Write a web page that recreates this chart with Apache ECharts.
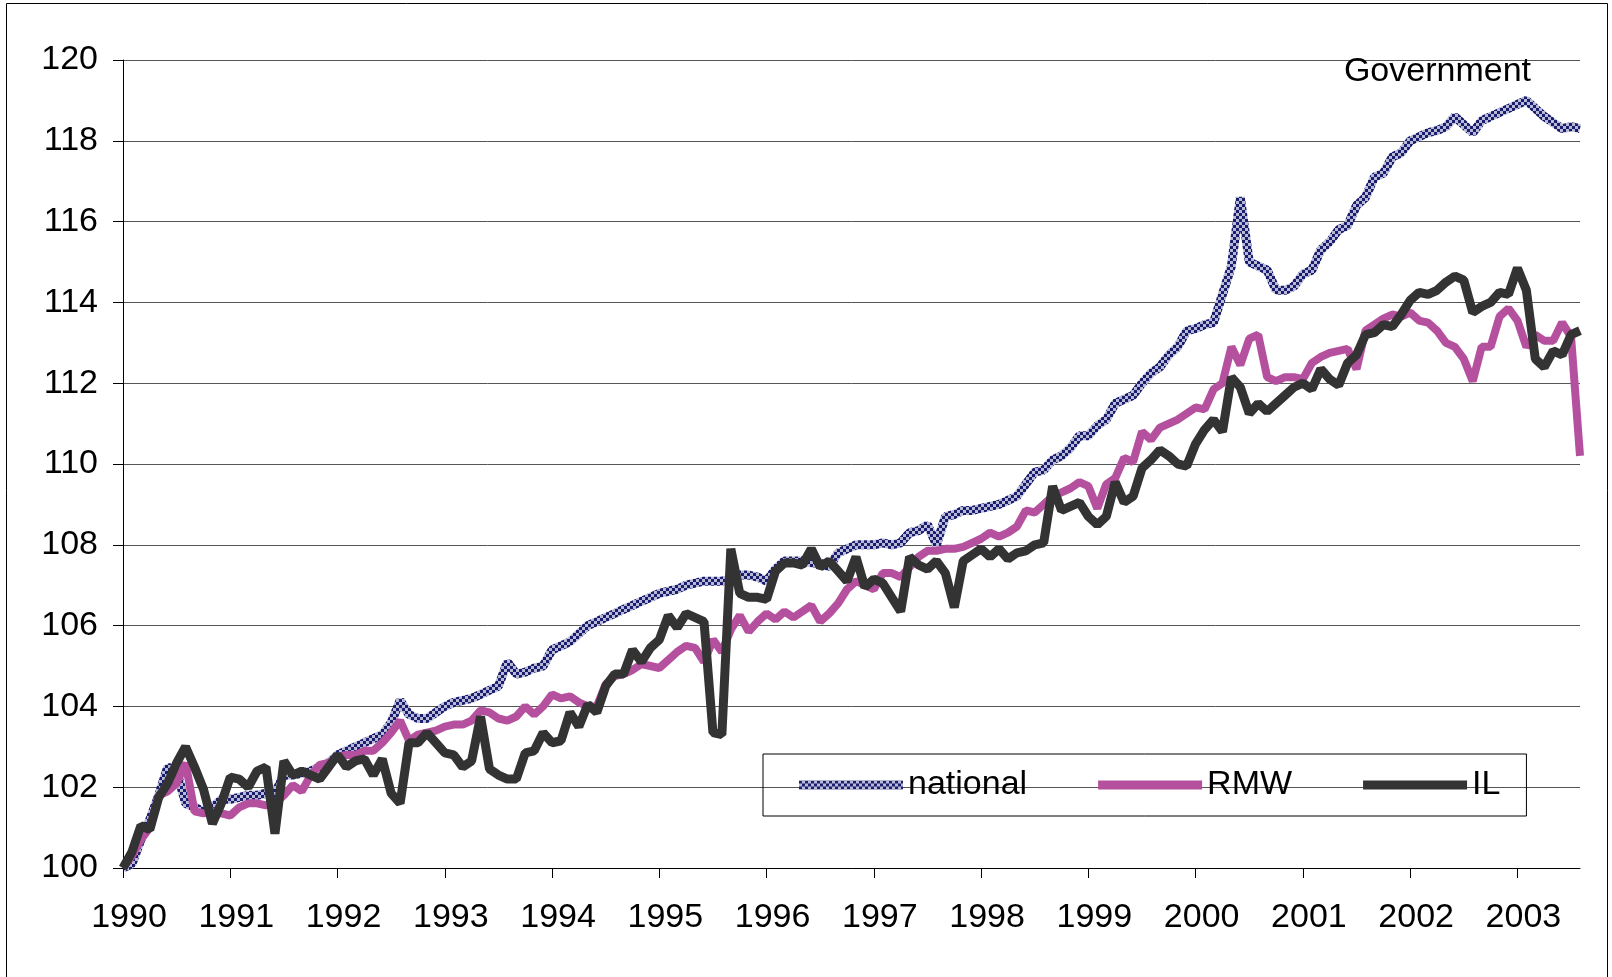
<!DOCTYPE html>
<html>
<head>
<meta charset="utf-8">
<title>Government</title>
<script src="https://cdn.jsdelivr.net/npm/echarts@6/dist/echarts.min.js"></script>
<style>
  html, body { margin: 0; padding: 0; background: #fff; }
  #chart { width: 1612px; height: 977px; }
</style>
</head>
<body>
<div id="chart"></div>
<script>
// monthly index, Jan 1990 = 100
var years = ['1990','1991','1992','1993','1994','1995','1996','1997','1998','1999','2000','2001','2002','2003'];
var nMonths = 164; // Jan 1990 .. Aug 2003

var national = [
  100.0,100.1,100.7,101.2,101.8,102.5,102.4,101.6,101.5,101.4,101.5,101.7,
  101.7,101.75,101.8,101.8,101.85,101.85,102.3,102.3,102.35,102.4,102.5,102.6,
  102.8,102.9,103.0,103.1,103.2,103.3,103.6,104.15,103.8,103.7,103.7,103.85,
  104.0,104.1,104.15,104.2,104.3,104.4,104.5,105.1,104.8,104.85,104.95,105.0,
  105.4,105.5,105.6,105.8,106.0,106.1,106.2,106.3,106.4,106.5,106.6,106.7,
  106.8,106.85,106.9,107.0,107.05,107.1,107.1,107.1,107.15,107.25,107.25,107.2,
  107.1,107.4,107.6,107.6,107.6,107.55,107.55,107.45,107.8,107.9,108.0,108.0,
  108.0,108.05,108.0,108.05,108.3,108.35,108.5,108.0,108.7,108.75,108.85,108.85,
  108.9,108.95,109.0,109.1,109.2,109.5,109.8,109.85,110.1,110.2,110.4,110.7,
  110.7,110.95,111.1,111.5,111.6,111.7,112.0,112.25,112.4,112.7,112.9,113.3,
  113.35,113.45,113.5,114.2,114.9,116.6,115.0,114.9,114.8,114.3,114.3,114.4,
  114.7,114.8,115.3,115.5,115.8,115.9,116.4,116.6,117.1,117.2,117.6,117.7,
  118.0,118.1,118.2,118.25,118.35,118.6,118.4,118.2,118.5,118.6,118.7,118.8,
  118.9,119.0,118.8,118.6,118.45,118.3,118.35,118.3
];

var rmw = [
  100.0,100.3,100.7,101.0,101.8,101.9,102.1,102.6,101.4,101.35,101.4,101.35,
  101.3,101.5,101.6,101.6,101.55,101.6,101.8,102.05,101.9,102.3,102.55,102.6,
  102.75,102.8,102.8,102.9,102.9,103.1,103.35,103.65,103.15,103.3,103.35,103.4,
  103.5,103.55,103.55,103.65,103.9,103.85,103.7,103.65,103.75,104.0,103.8,104.0,
  104.3,104.2,104.25,104.1,104.0,104.0,104.55,104.75,104.8,104.9,105.05,105.0,
  104.95,105.15,105.35,105.5,105.45,105.1,105.65,105.35,105.9,106.25,105.85,106.1,
  106.3,106.15,106.35,106.2,106.35,106.5,106.1,106.3,106.55,106.9,107.1,107.0,
  106.9,107.3,107.3,107.2,107.45,107.7,107.85,107.85,107.9,107.9,107.95,108.05,
  108.15,108.3,108.2,108.3,108.45,108.85,108.8,109.0,109.2,109.3,109.4,109.55,
  109.45,108.9,109.5,109.65,110.15,110.05,110.8,110.6,110.9,111.0,111.1,111.25,
  111.4,111.35,111.85,112.0,112.9,112.45,113.1,113.2,112.15,112.05,112.15,112.15,
  112.1,112.5,112.65,112.75,112.8,112.85,112.35,113.3,113.45,113.6,113.7,113.65,
  113.75,113.55,113.5,113.3,113.0,112.9,112.6,112.05,112.9,112.9,113.65,113.85,
  113.55,112.9,113.2,113.05,113.05,113.5,113.15,110.2
];

var il = [
  100.0,100.4,101.05,100.95,101.75,102.1,102.6,103.0,102.5,101.95,101.1,101.6,
  102.25,102.2,102.0,102.4,102.5,100.85,102.65,102.3,102.4,102.3,102.2,102.5,
  102.8,102.5,102.65,102.7,102.3,102.7,101.85,101.6,103.1,103.1,103.35,103.1,
  102.85,102.8,102.5,102.65,103.75,102.45,102.3,102.2,102.2,102.85,102.9,103.35,
  103.1,103.15,103.85,103.5,104.05,103.85,104.5,104.8,104.8,105.4,105.1,105.45,
  105.65,106.25,105.95,106.3,106.2,106.1,103.35,103.3,107.9,106.8,106.7,106.7,
  106.65,107.35,107.55,107.55,107.5,107.9,107.45,107.6,107.35,107.1,107.7,106.95,
  107.15,107.05,106.7,106.35,107.7,107.5,107.4,107.6,107.3,106.45,107.6,107.75,
  107.9,107.7,107.9,107.65,107.8,107.85,108.0,108.05,109.45,108.85,108.95,109.05,
  108.7,108.5,108.7,109.55,109.05,109.2,109.9,110.1,110.35,110.2,110.0,109.95,
  110.5,110.85,111.1,110.8,112.15,111.9,111.25,111.5,111.3,111.5,111.7,111.9,
  112.0,111.85,112.35,112.1,111.95,112.5,112.7,113.2,113.25,113.45,113.4,113.7,
  114.05,114.25,114.2,114.3,114.5,114.65,114.55,113.75,113.9,114.0,114.25,114.2,
  114.85,114.3,112.6,112.4,112.8,112.7,113.2,113.3
];

var months = [];
for (var i = 0; i < nMonths; i++) {
  var y = 1990 + Math.floor(i / 12);
  var m = (i % 12) + 1;
  months.push(y + '-' + (m < 10 ? '0' + m : m));
}

// checkered stroke like the old spreadsheet pattern fill
function checker() {
  var c = document.createElement('canvas');
  c.width = 6; c.height = 6;
  var ctx = c.getContext('2d');
  ctx.fillStyle = '#b7bad6';
  ctx.fillRect(0, 0, 6, 6);
  ctx.fillStyle = '#1d1d6e';
  ctx.fillRect(0, 0, 3, 3);
  ctx.fillRect(3, 3, 3, 3);
  return { image: c, repeat: 'repeat' };
}

var font = "'Liberation Sans', Arial, sans-serif";
var chart = echarts.init(document.getElementById('chart'));
var isYearStart = function (idx) { return idx % 12 === 0; };

var option = {
  animation: false,
  backgroundColor: '#fff',
  title: {
    text: 'Government',
    right: 76,
    top: 50,
    textStyle: { fontFamily: font, fontSize: 34, fontWeight: 'normal', color: '#000' }
  },
  grid: { left: 123, right: 32, top: 60, bottom: 109 },
  legend: {
    left: 763,
    top: 754,
    padding: [14, 26, 14, 36],
    icon: 'rect',
    itemWidth: 104,
    itemHeight: 9,
    itemGap: 71,
    borderColor: '#000',
    borderWidth: 1,
    textStyle: { fontFamily: font, fontSize: 34, color: '#000' },
    data: [
      { name: 'national', itemStyle: { color: checker() } },
      { name: 'RMW', itemStyle: { color: '#b5509f' } },
      { name: 'IL', itemStyle: { color: '#333333' } }
    ]
  },
  xAxis: {
    type: 'category',
    data: months,
    boundaryGap: false,
    axisLine: { lineStyle: { color: '#000', width: 1 } },
    axisTick: { interval: isYearStart, length: 10, lineStyle: { color: '#000' } },
    axisLabel: {
      interval: isYearStart,
      margin: 33,
      padding: [0, 0, 0, 12],
      fontFamily: font,
      fontSize: 34,
      color: '#000',
      formatter: function (v) { return years[parseInt(v.slice(0, 4), 10) - 1990]; }
    },
    splitLine: { show: false }
  },
  yAxis: {
    type: 'value',
    min: 100,
    max: 120,
    interval: 2,
    axisLine: { show: true, lineStyle: { color: '#000', width: 1 } },
    axisTick: { show: true, length: 10, lineStyle: { color: '#000' } },
    axisLabel: { margin: 25, fontFamily: font, fontSize: 34, color: '#000' },
    splitLine: { lineStyle: { color: '#555', width: 1 } }
  },
  series: [
    {
      name: 'national',
      type: 'line',
      data: national,
      showSymbol: false,
      symbol: 'none',
      color: '#5a5d96',
      lineStyle: { width: 9, color: checker() }
    },
    {
      name: 'RMW',
      type: 'line',
      data: rmw,
      showSymbol: false,
      symbol: 'none',
      color: '#b5509f',
      lineStyle: { width: 8, color: '#b5509f' }
    },
    {
      name: 'IL',
      type: 'line',
      data: il,
      showSymbol: false,
      symbol: 'none',
      color: '#333333',
      lineStyle: { width: 9, color: '#333333' }
    }
  ],
  graphic: [
    {
      type: 'rect',
      silent: true,
      shape: { x: 6.5, y: 3.5, width: 1601, height: 1000 },
      style: { fill: 'none', stroke: '#000', lineWidth: 1 }
    }
  ]
};

chart.setOption(option);
</script>
</body>
</html>
